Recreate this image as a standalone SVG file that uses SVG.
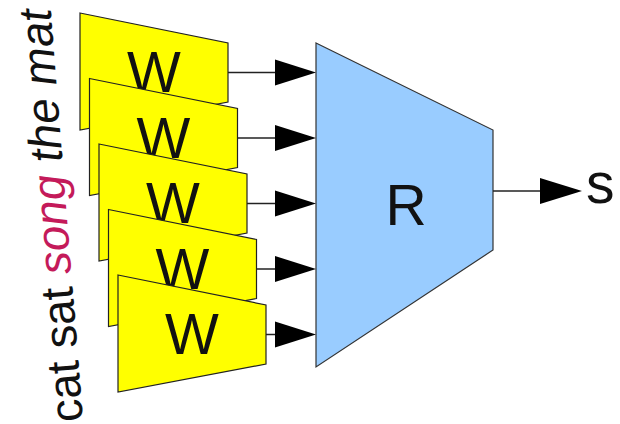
<svg xmlns="http://www.w3.org/2000/svg" width="620" height="424" viewBox="0 0 620 424">
<style>
.w{fill:#ffff00;stroke:#222;stroke-width:1.2}
.r{fill:#99ccff;stroke:#333;stroke-width:1.2}
.big{font-family:"Liberation Sans",Arial,sans-serif;font-size:57px;fill:#111}
.ln{stroke:#222;stroke-width:1.5;fill:none}
.ah{fill:#000}
.side{font-family:"Liberation Sans",Arial,sans-serif;font-size:46px;fill:#111}
</style>
<rect width="620" height="424" fill="#fff"/>
<g id="words">
<text class="side" transform="translate(83,421) rotate(-94.5)">cat sat <tspan font-style="italic" fill="#c41a5a">song</tspan><tspan font-style="italic"> the mat</tspan></text>
</g>
<g id="w1"><polygon class="w" points="80,13 228,43 228,102 80,130"/><text class="big" x="154" y="92" text-anchor="middle">W</text></g>
<g id="w2"><polygon class="w" points="89.5,78.5 237.5,108.5 237.5,167.5 89.5,195.5"/><text class="big" x="163.5" y="157.5" text-anchor="middle">W</text></g>
<g id="w3"><polygon class="w" points="99,144 247,174 247,233 99,261"/><text class="big" x="173" y="223" text-anchor="middle">W</text></g>
<g id="w4"><polygon class="w" points="108.5,209.5 256.5,239.5 256.5,298.5 108.5,326.5"/><text class="big" x="182.5" y="288.5" text-anchor="middle">W</text></g>
<g id="w5"><polygon class="w" points="118,275 266,305 266,364 118,392"/><text class="big" x="192" y="354" text-anchor="middle">W</text></g>
<g id="r"><polygon class="r" points="316,43 493,130 493,250 316,367"/><text class="big" x="406" y="225" text-anchor="middle">R</text></g>
<g id="s"><text class="big" x="586" y="203">s</text></g>
<g id="connectors">
<line class="ln" x1="228" y1="72.5" x2="276" y2="72.5"/><polygon class="ah" points="275,59.5 316,72.5 275,85.5"/>
<line class="ln" x1="237.5" y1="138" x2="276" y2="138"/><polygon class="ah" points="275,125 316,138 275,151"/>
<line class="ln" x1="247" y1="203.5" x2="276" y2="203.5"/><polygon class="ah" points="275,190.5 316,203.5 275,216.5"/>
<line class="ln" x1="256.5" y1="269" x2="276" y2="269"/><polygon class="ah" points="275,256 316,269 275,282"/>
<line class="ln" x1="266" y1="334.5" x2="276" y2="334.5"/><polygon class="ah" points="275,321.5 316,334.5 275,347.5"/>
<line class="ln" x1="493" y1="191" x2="541" y2="191"/><polygon class="ah" points="540,178 582,191 540,204"/>
</g>
</svg>
